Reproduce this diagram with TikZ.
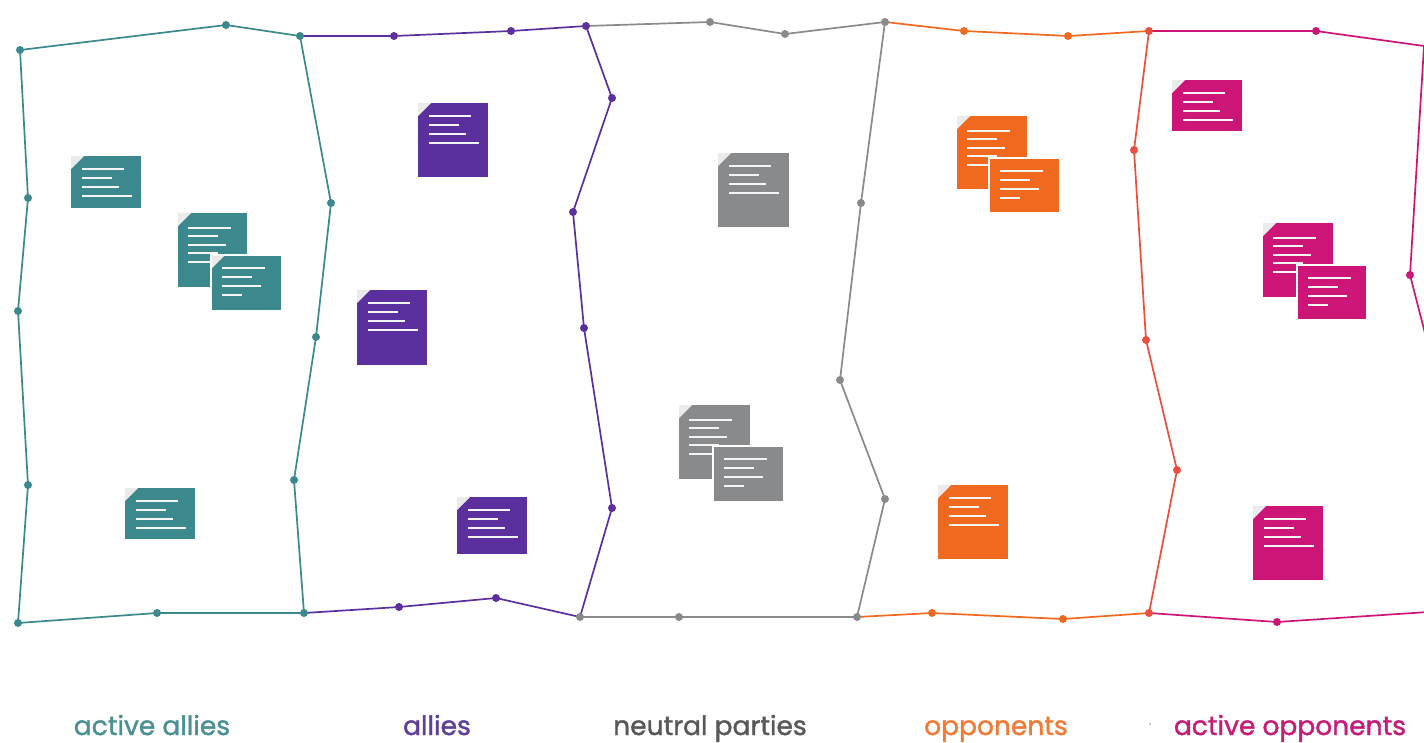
\documentclass[tikz,border=0pt]{standalone}
\usepackage{fontspec}
\setmainfont{Poppins}
\newfontfamily\lblfont[FakeBold=1.4]{Poppins}
\definecolor{cteal}{HTML}{3B898C}
\definecolor{cpurple}{HTML}{5B2F9E}
\definecolor{cgrey}{HTML}{898A8B}
\definecolor{corange}{HTML}{F0691F}
\definecolor{cred}{HTML}{EA4E3E}
\definecolor{cpink}{HTML}{CD1578}
\definecolor{tteal}{HTML}{4A8F92}
\definecolor{tpurple}{HTML}{5E3E98}
\definecolor{tgrey}{HTML}{585858}
\definecolor{torange}{HTML}{F07A36}
\definecolor{tpink}{HTML}{C41C78}
\newcommand{\padnote}[5]{%
  \fill[#5] (#1,#2) rectangle ++(#3,#4);
  \fill[foldc] (#1,#2) -- ++(13,0) -- ++(-13,13) -- cycle;
  \foreach \len [count=\i] in {42,30,37,50}
    \draw[noteline] ({#1+11},{#2+4+9*\i}) -- ++(\len,0);
}
\newcommand{\backnote}[5]{%
  \fill[#5] (#1,#2) rectangle ++(#3,#4);
  \fill[foldc] (#1,#2) -- ++(13,0) -- ++(-13,13) -- cycle;
  \foreach \len [count=\i] in {43,30,38,30,24}
    \draw[noteline] ({#1+10},{#2+6+8.5*\i}) -- ++(\len,0);
}
\newcommand{\frontnote}[5]{%
  \filldraw[fill=#5, draw=white, line width=2pt] (#1,#2) rectangle ++(#3,#4);
  \foreach \len [count=\i] in {43,30,39,20}
    \draw[noteline] ({#1+11},{#2+4+9*\i}) -- ++(\len,0);
}
\begin{document}
\begin{tikzpicture}[x=1pt,y=-1pt,
  edge/.style={line width=1.7pt, line join=round},
  vdot/.style={circle, fill=#1, inner sep=0pt, minimum size=8pt},
  noteline/.style={white!92!gray, line width=2pt},
  foldc/.style={fill=white!92!black},
  lbl/.style={anchor=base, font=\lblfont\fontsize{26.5}{30}\selectfont}]
\useasboundingbox (0,0) rectangle (1424,742);
\clip (0,0) rectangle (1424,742);
% vertices
\coordinate (A1) at (20,50);   \coordinate (A2) at (226,25);  \coordinate (A3) at (300,36);
\coordinate (L1) at (28,198);  \coordinate (L2) at (18,311);  \coordinate (L3) at (28,485);
\coordinate (A4) at (18,623);  \coordinate (B1) at (157,613); \coordinate (B2) at (304,613);
\coordinate (R1) at (331,203); \coordinate (R2) at (316,337); \coordinate (R3) at (294,480);
\coordinate (P1) at (394,36);  \coordinate (P2) at (511,31);  \coordinate (C1) at (586,26);
\coordinate (Q1) at (612,98);  \coordinate (Q2) at (573,212); \coordinate (Q3) at (584,328);
\coordinate (Q4) at (612,508); \coordinate (C2) at (580,617);
\coordinate (P3) at (399,607); \coordinate (P4) at (496,598);
\coordinate (G1) at (710,22);  \coordinate (G2) at (785,34);  \coordinate (D1) at (885,22);
\coordinate (H1) at (861,203); \coordinate (H2) at (840,380); \coordinate (H3) at (885,499);
\coordinate (D2) at (857,617); \coordinate (G3) at (679,617);
\coordinate (O1) at (964,31);  \coordinate (O2) at (1068,36); \coordinate (E1) at (1149,31);
\coordinate (S1) at (1134,150);\coordinate (S2) at (1146,340);\coordinate (S3) at (1177,470);
\coordinate (E2) at (1149,613);\coordinate (O3) at (932,613); \coordinate (O4) at (1063,619);
\coordinate (K1) at (1316,31); \coordinate (K2) at (1424,46); \coordinate (K3) at (1410,275);
\coordinate (K4) at (1428,345);\coordinate (K5) at (1277,622);\coordinate (K6) at (1428,612);
% edges
\draw[edge, cteal] (A3) -- (A2) -- (A1) -- (L1) -- (L2) -- (L3) -- (A4) -- (B1) -- (B2) -- (R3) -- (R2) -- (R1) -- cycle;
\draw[edge, cpurple] (A3) -- (P1) -- (P2) -- (C1) -- (Q1) -- (Q2) -- (Q3) -- (Q4) -- (C2) -- (P4) -- (P3) -- (B2);
\draw[edge, cgrey] (C1) -- (G1) -- (G2) -- (D1) -- (H1) -- (H2) -- (H3) -- (D2) -- (G3) -- (C2);
\draw[edge, corange] (D1) -- (O1) -- (O2) -- (E1);
\draw[edge, corange] (D2) -- (O3) -- (O4) -- (E2);
\draw[edge, cred] (E1) -- (S1) -- (S2) -- (S3) -- (E2);
\draw[edge, cpink] (E1) -- (K1) -- (K2) -- (K3) -- (K4);
\draw[edge, cpink] (E2) -- (K5) -- (K6);
% dots
\foreach \p in {A1,A2,A3,L1,L2,L3,A4,B1,B2,R1,R2,R3}
  \node[vdot=cteal] (d\p) at (\p) {};
\foreach \p in {P1,P2,C1,Q1,Q2,Q3,Q4,P3,P4}
  \node[vdot=cpurple] (d\p) at (\p) {};
\foreach \p in {G1,G2,D1,H1,H2,H3,D2,G3,C2}
  \node[vdot=cgrey] (d\p) at (\p) {};
\foreach \p in {O1,O2,O3,O4}
  \node[vdot=corange] (d\p) at (\p) {};
\foreach \p in {E1,S1,S2,S3,E2}
  \node[vdot=cred] (d\p) at (\p) {};
\foreach \p in {K1,K3,K5}
  \node[vdot=cpink] (d\p) at (\p) {};
% notes
\padnote{71}{156}{70}{52}{cteal}
\backnote{178}{213}{69}{74}{cteal}
\frontnote{211}{255}{71}{56}{cteal}
\fill[foldc] (212,256) -- ++(12,0) -- ++(-12,12) -- cycle;
\padnote{125}{488}{70}{51}{cteal}
\padnote{418}{103}{70}{74}{cpurple}
\padnote{357}{290}{70}{75}{cpurple}
\padnote{457}{497}{70}{57}{cpurple}
\padnote{718}{153}{71}{74}{cgrey}
\backnote{679}{405}{71}{74}{cgrey}
\frontnote{713}{446}{71}{56}{cgrey}
\backnote{957}{116}{70}{73}{corange}
\frontnote{989}{158}{71}{55}{corange}
\padnote{938}{485}{70}{74}{corange}
\padnote{1172}{80}{70}{51}{cpink}
\backnote{1263}{223}{70}{74}{cpink}
\frontnote{1297}{265}{70}{55}{cpink}
\padnote{1253}{506}{70}{74}{cpink}
% labels
\node[lbl, text=tteal] (l1) at (152,735) {active allies};
\node[lbl, text=tpurple] (l2) at (437,735) {allies};
\node[lbl, text=tgrey] (l3) at (710,735) {neutral parties};
\node[lbl, text=torange] (l4) at (996,735) {opponents};
\node[lbl, text=tpink] (l5) at (1290,735) {active opponents};
\node[circle, fill=black!25, inner sep=0pt, minimum size=2.5pt] (sp) at (1150,724) {};
\end{tikzpicture}
\end{document}
